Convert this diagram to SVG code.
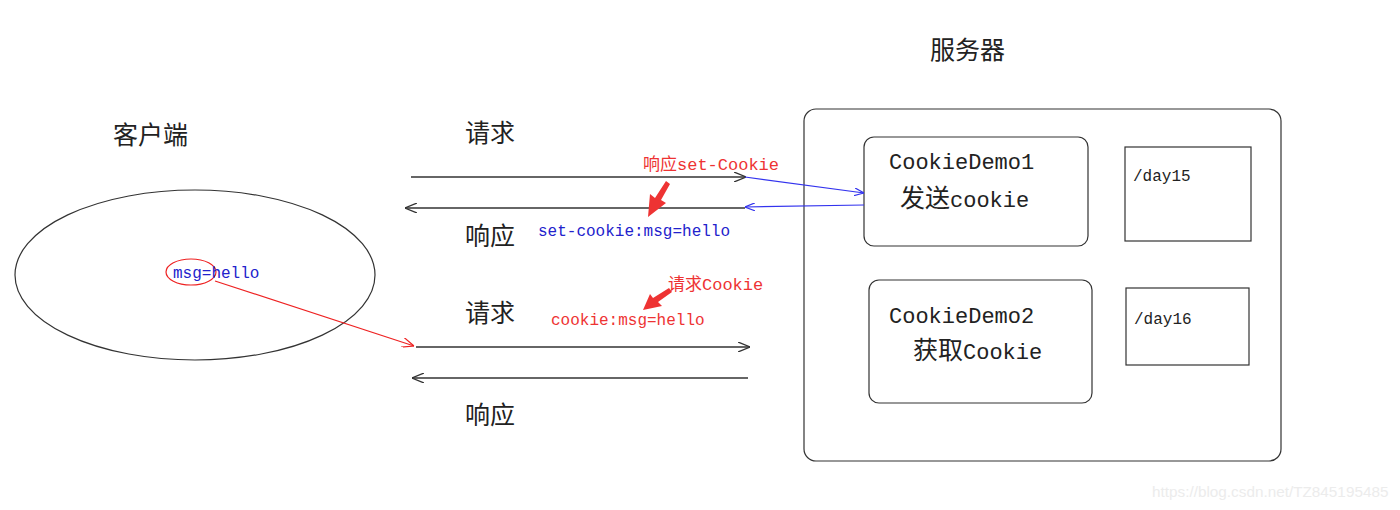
<svg xmlns="http://www.w3.org/2000/svg" width="1400" height="510" viewBox="0 0 1400 510">
<style>
.cjk{font-family:"Noto Sans CJK SC","Noto Sans",sans-serif;fill:#222;}
.mono{font-family:"Liberation Mono","DejaVu Sans Mono",monospace;}
.box{fill:#fff;stroke:#333;stroke-width:1.2;}
.ln{stroke:#333;stroke-width:1.3;fill:none;}
.bl{stroke:#3333ee;stroke-width:1.2;fill:none;}
.rd{stroke:#ee2222;stroke-width:1.2;fill:none;}
.red{fill:#ee3333;}
.blue{fill:#2222cc;}
</style>
<defs>
<marker id="ah" viewBox="0 0 12 10" refX="12" refY="5" markerWidth="12" markerHeight="10" markerUnits="userSpaceOnUse" orient="auto">
<path d="M0,0 L12,5 L0,10" fill="none" stroke="#333" stroke-width="1.3"/>
</marker>
<marker id="ahb" viewBox="0 0 10 8" refX="10" refY="4" markerWidth="10" markerHeight="8" markerUnits="userSpaceOnUse" orient="auto">
<path d="M0,0 L10,4 L0,8" fill="none" stroke="#3333ee" stroke-width="1.2"/>
</marker>
<marker id="ahr" viewBox="0 0 12 10" refX="12" refY="5" markerWidth="12" markerHeight="10" markerUnits="userSpaceOnUse" orient="auto">
<path d="M0,0 L12,5 L0,10" fill="none" stroke="#ee2222" stroke-width="1.2"/>
</marker>
</defs>

<g id="server">
<rect class="box" x="804" y="109" width="477" height="352" rx="12"/>
<text class="cjk" x="930" y="59" font-size="25">服务器</text>
</g>

<g id="client">
<ellipse cx="195" cy="275" rx="180" ry="85" fill="none" stroke="#333" stroke-width="1.2"/>
<text class="cjk" x="113" y="144" font-size="25">客户端</text>
<ellipse cx="191" cy="272" rx="25" ry="13" fill="none" stroke="#ee2222" stroke-width="1.2"/>
<text class="mono blue" x="173" y="278" font-size="16">msg=hello</text>
</g>

<g id="cookiedemo1">
<rect class="box" x="864" y="137" width="224" height="109" rx="10"/>
<text class="mono" x="889" y="169" font-size="22" fill="#222">CookieDemo1</text>
<text x="900" y="207" font-size="22" fill="#222"><tspan class="cjk" font-size="25">发送</tspan><tspan class="mono">cookie</tspan></text>
</g>

<g id="day15">
<rect class="box" x="1125" y="147" width="126" height="94"/>
<text class="mono" x="1133" y="181" font-size="16" fill="#222">/day15</text>
</g>

<g id="cookiedemo2">
<rect class="box" x="869" y="280" width="223" height="123" rx="10"/>
<text class="mono" x="889" y="323" font-size="22" fill="#222">CookieDemo2</text>
<text x="913" y="359" font-size="22" fill="#222"><tspan class="cjk" font-size="25">获取</tspan><tspan class="mono">Cookie</tspan></text>
</g>

<g id="day16">
<rect class="box" x="1126" y="288" width="123" height="77"/>
<text class="mono" x="1134" y="324" font-size="16" fill="#222">/day16</text>
</g>

<g id="labels">
<text class="cjk" x="465" y="142" font-size="25">请求</text>
<text class="cjk" x="465" y="245" font-size="25">响应</text>
<text class="cjk" x="465" y="322" font-size="25">请求</text>
<text class="cjk" x="465" y="424" font-size="25">响应</text>
<text x="643" y="170" font-size="17" class="red"><tspan font-family="Noto Sans CJK SC, sans-serif">响应</tspan><tspan class="mono">set-Cookie</tspan></text>
<text class="mono blue" x="538" y="236" font-size="16">set-cookie:msg=hello</text>
<text x="668" y="290" font-size="17" class="red"><tspan font-family="Noto Sans CJK SC, sans-serif">请求</tspan><tspan class="mono">Cookie</tspan></text>
<text class="mono red" x="551" y="325" font-size="16">cookie:msg=hello</text>
<text x="1152" y="497" font-size="15.3" font-family="Liberation Sans, sans-serif" fill="#ececec">https://blog.csdn.net/TZ845195485</text>
</g>

<g id="connectors">
<line class="ln" x1="411" y1="177" x2="746" y2="177" marker-end="url(#ah)"/>
<line class="ln" x1="745" y1="208" x2="405" y2="208" marker-end="url(#ah)"/>
<line class="ln" x1="416" y1="347" x2="750" y2="347" marker-end="url(#ah)"/>
<line class="ln" x1="748" y1="378" x2="412" y2="378" marker-end="url(#ah)"/>
<line class="bl" x1="745" y1="177" x2="864" y2="193" marker-end="url(#ahb)"/>
<line class="bl" x1="864" y1="205" x2="745" y2="207" marker-end="url(#ahb)"/>
<line class="rd" x1="215" y1="281" x2="414" y2="346" marker-end="url(#ahr)"/>
<path class="red" d="M666,181 L670,184 L661,200 L666,203 L648,217 L650,194 L655,198 Z"/>
<path class="red" d="M669,288 L672,292 L658,302 L662,306 L643,310 L650,294 L653,298 Z"/>
</g>
</svg>
